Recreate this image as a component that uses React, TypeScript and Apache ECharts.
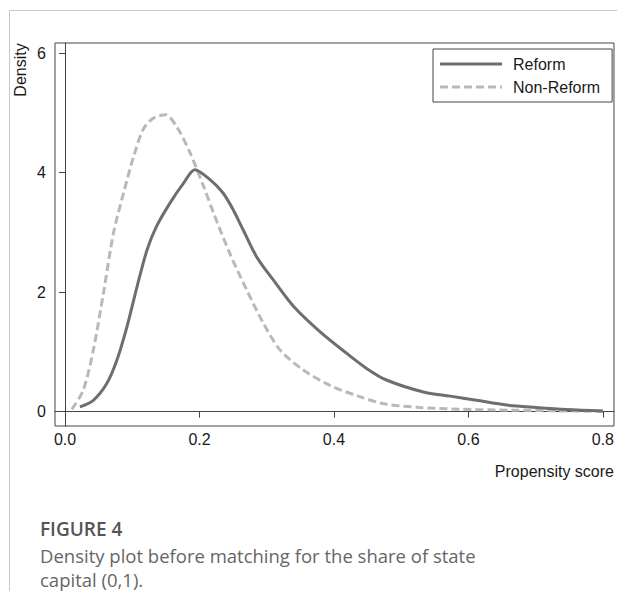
import React, { useEffect, useRef } from "react";
import * as echarts from "echarts";

const reformX = [0.022, 0.042, 0.062, 0.077, 0.092, 0.107, 0.122, 0.136, 0.156, 0.176, 0.193, 0.216, 0.235, 0.25, 0.265, 0.285, 0.31, 0.34, 0.379, 0.419, 0.449, 0.478, 0.533, 0.573, 0.612, 0.657, 0.701, 0.746, 0.8];
const reformY = [0.08, 0.19, 0.47, 0.86, 1.42, 2.09, 2.71, 3.1, 3.49, 3.82, 4.05, 3.88, 3.66, 3.38, 3.04, 2.59, 2.2, 1.76, 1.34, 0.975, 0.72, 0.53, 0.33, 0.26, 0.19, 0.11, 0.07, 0.036, 0.01];

const nonReformX = [0.01, 0.027, 0.042, 0.057, 0.072, 0.087, 0.102, 0.116, 0.131, 0.149, 0.166, 0.186, 0.206, 0.221, 0.245, 0.27, 0.295, 0.32, 0.354, 0.394, 0.436, 0.475, 0.528, 0.587, 0.662, 0.736, 0.8];
const nonReformY = [0.04, 0.36, 1.03, 1.98, 2.99, 3.66, 4.27, 4.72, 4.91, 4.97, 4.77, 4.33, 3.77, 3.32, 2.65, 2.04, 1.48, 1.03, 0.7, 0.44, 0.26, 0.13, 0.07, 0.04, 0.025, 0.013, 0.005];

const xTicks = [0, 0.2, 0.4, 0.6, 0.8];
const yTicks = [0, 2, 4, 6];
const seriesNames = ["Reform", "Non-Reform"];

const FONT = "'Liberation Sans', Arial, sans-serif";
const CAP_FONT = "'Open Sans', 'Noto Sans', sans-serif";
const REFORM_COLOR = "#6e6e6e";
const NONREFORM_COLOR = "#b9b9b9";

export default function App() {
  const ref = useRef<HTMLDivElement>(null);
  useEffect(() => {
    document.body.style.margin = "0";
    const chart = echarts.init(ref.current!, undefined, { renderer: "svg" });
    const reformData = reformX.map((x, i) => [x, reformY[i]]);
    const nonReformData = nonReformX.map((x, i) => [x, nonReformY[i]]);
    chart.setOption({
      animation: false,
      backgroundColor: "#ffffff",
      grid: {
        left: 55,
        right: 3,
        top: 43,
        bottom: 165,
        show: true,
        borderColor: "#444",
        borderWidth: 1,
        backgroundColor: "transparent",
      },
      xAxis: {
        type: "value",
        min: -0.015,
        max: 0.8165,
        splitLine: { show: false },
        axisLine: { show: true, lineStyle: { color: "#444", width: 1 } },
        axisTick: { show: true, length: 6, customValues: xTicks, lineStyle: { color: "#444" } },
        axisLabel: {
          customValues: xTicks,
          formatter: (v: number) => v.toFixed(1),
          margin: 5,
          fontFamily: FONT,
          fontSize: 16,
          color: "#1a1a1a",
        },
      },
      yAxis: {
        type: "value",
        min: -0.24,
        max: 6.17,
        splitLine: { show: false },
        axisLine: { show: true, lineStyle: { color: "#444", width: 1 } },
        axisTick: { show: true, length: 6, customValues: yTicks, lineStyle: { color: "#444" } },
        axisLabel: {
          customValues: yTicks,
          formatter: (v: number) => String(Math.round(v)),
          margin: 9,
          fontFamily: FONT,
          fontSize: 16,
          color: "#1a1a1a",
        },
      },
      legend: {
        orient: "vertical",
        left: 433,
        top: 49,
        padding: [7, 12, 7, 7],
        itemWidth: 62,
        itemHeight: 14,
        itemGap: 7,
        borderColor: "#444",
        borderWidth: 1,
        data: [
          { name: seriesNames[0], icon: "none" },
          { name: seriesNames[1], icon: "none" },
        ],
        textStyle: { fontFamily: FONT, fontSize: 16, color: "#1a1a1a", lineHeight: 16, padding: [0, 0, 0, 6] },
      },
      series: [
        {
          name: seriesNames[0],
          type: "line",
          data: reformData,
          smooth: 0.3,
          showSymbol: false,
          symbol: "none",
          lineStyle: { color: REFORM_COLOR, width: 3 },
          itemStyle: { color: REFORM_COLOR },
          z: 3,
        },
        {
          name: seriesNames[1],
          type: "line",
          data: nonReformData,
          smooth: 0.3,
          showSymbol: false,
          symbol: "none",
          lineStyle: { color: NONREFORM_COLOR, width: 3, type: [8, 4] },
          itemStyle: { color: NONREFORM_COLOR },
          z: 2,
        },
      ],
      graphic: [
        { type: "line", shape: { x1: 9.5, y1: 10, x2: 9.5, y2: 591 }, style: { stroke: "#c8c8c8", lineWidth: 1 } },
        { type: "line", shape: { x1: 9, y1: 10.5, x2: 617, y2: 10.5 }, style: { stroke: "#c8c8c8", lineWidth: 1 } },
        { type: "line", shape: { x1: 440, y1: 64, x2: 502, y2: 64 }, style: { stroke: REFORM_COLOR, lineWidth: 3 } },
        { type: "line", shape: { x1: 440, y1: 87, x2: 502, y2: 87 }, style: { stroke: NONREFORM_COLOR, lineWidth: 3, lineDash: [8, 4] } },
        {
          type: "text",
          x: 20,
          y: 70,
          rotation: Math.PI / 2,
          style: { text: "Density", fontFamily: FONT, fontSize: 16, fill: "#1a1a1a", align: "center", verticalAlign: "middle" },
        },
        {
          type: "text",
          x: 614,
          y: 471,
          style: { text: "Propensity score", fontFamily: FONT, fontSize: 16, fill: "#1a1a1a", align: "right", verticalAlign: "middle" },
        },
        {
          type: "text",
          x: 40,
          y: 529,
          style: { text: "FIGURE 4", fontFamily: CAP_FONT, fontSize: 19, fontWeight: 600, fill: "#555", align: "left", verticalAlign: "middle" },
        },
        {
          type: "text",
          x: 40,
          y: 555,
          style: { text: "Density plot before matching for the share of state", fontFamily: CAP_FONT, fontSize: 18.5, fill: "#666", align: "left", verticalAlign: "middle" },
        },
        {
          type: "text",
          x: 40,
          y: 579,
          style: { text: "capital (0,1).", fontFamily: CAP_FONT, fontSize: 18.5, fill: "#666", align: "left", verticalAlign: "middle" },
        },
      ],
    });
    return () => chart.dispose();
  }, []);
  return <div ref={ref} style={{ position: "absolute", left: 0, top: 0, width: 617, height: 591 }} />;
}
